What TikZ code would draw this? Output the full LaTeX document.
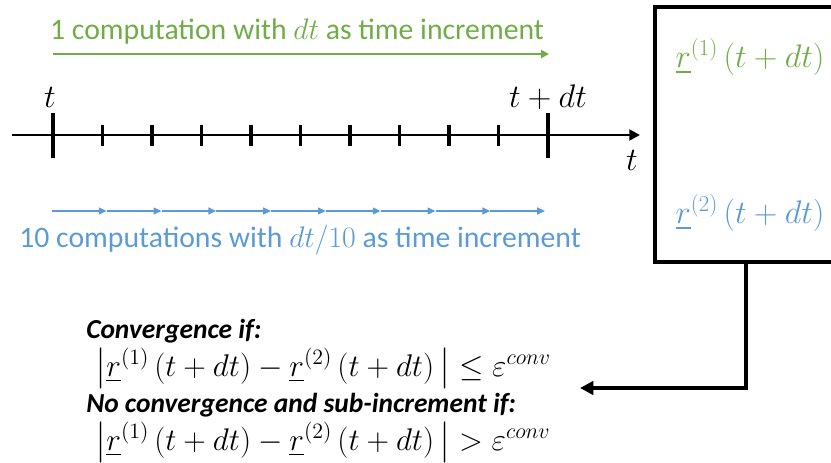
\documentclass[tikz,border=0pt]{standalone}
\usepackage{fix-cm}
\usepackage{amsmath}
\usepackage{fontspec}
\setmainfont{Carlito}
\usetikzlibrary{arrows.meta, positioning}
\definecolor{stepgreen}{RGB}{112,173,71}
\definecolor{stepblue}{RGB}{91,155,213}

\begin{document}
\begin{tikzpicture}[x=0.75pt, y=-0.75pt,
    lbl/.style={inner sep=0pt, font=\fontsize{22.3}{26}\selectfont},
    mlbl/.style={inner sep=0pt, font=\fontsize{24.5}{28}\selectfont},
    cond/.style={inner sep=0pt, anchor=base west, font=\fontsize{20.6}{24}\selectfont\bfseries\itshape},
    formula/.style={inner sep=0pt, anchor=base west, font=\fontsize{23.5}{26}\selectfont},
    axis/.style={line width=2.2pt, -{Triangle[length=8pt, width=8pt]}},
    tick/.style={line width=2.4pt},
    green arrow/.style={stepgreen, line width=1.8pt, -{Triangle[length=6pt, width=6pt]}},
    blue arrow/.style={stepblue, line width=1.5pt, -{Triangle[length=6pt, width=5pt]}},
    result/.style={draw, line width=3pt, minimum width=143pt, minimum height=191pt},
    feedback/.style={line width=3pt, -{Triangle[length=10pt, width=10pt]}}
  ]
    \useasboundingbox (0,0) rectangle (831,463);

    \node[lbl, text=stepgreen] (onestep) at (297,32) {1 computation with $dt$ as time increment};
    \coordinate (g0) at (53,54);
    \coordinate (g1) at (549,54);
    \draw[green arrow] (g0) -- (g1);

    \coordinate (a0) at (12,135);
    \coordinate (a1) at (640,135);
    \draw[axis] (a0) -- (a1);
    \foreach \i in {1,...,9}
      \draw[tick] ({53+\i*49.5},125) -- ({53+\i*49.5},146);
    \draw[tick] (53,113) -- (53,158);
    \draw[tick] (548,113) -- (548,158);
    \node[mlbl] (tstart) at (50,97) {$t$};
    \node[mlbl] (tend) at (548,97) {$t+dt$};
    \node[mlbl] (taxis) at (632,160) {$t$};

    \foreach \i in {0,...,9}
      \coordinate (b\i) at ({52+\i*54.8},211);
    \foreach \i [evaluate=\i as \j using int(\i+1)] in {0,...,8}
      \draw[blue arrow] (b\i) -- (b\j);
    \node[lbl, text=stepblue] (tensteps) at (300,240) {10 computations with $dt/10$ as time increment};

    \node[result] (rbox) at (750,134.5) {};
    \node[mlbl, text=stepgreen] (r1) at (750,57) {$\underline{r}^{(1)}\,(t+dt)$};
    \node[mlbl, text=stepblue] (r2) at (750,213) {$\underline{r}^{(2)}\,(t+dt)$};

    \coordinate (bend) at (746,388);
    \coordinate (back) at (580,388);
    \draw[feedback] (rbox.south -| bend) -- (bend) -- (back);

    \node[cond] (conv) at (86,338) {Convergence if:};
    \node[formula] (convf) at (95,376) {$\bigl|\underline{r}^{(1)}\,(t+dt)-\underline{r}^{(2)}\,(t+dt)\,\bigr|\le\varepsilon^{conv}$};
    \node[cond] (noconv) at (86,412) {No convergence and sub-increment if:};
    \node[formula] (noconvf) at (95,450) {$\bigl|\underline{r}^{(1)}\,(t+dt)-\underline{r}^{(2)}\,(t+dt)\,\bigr|>\varepsilon^{conv}$};
  \end{tikzpicture}
\end{document}
